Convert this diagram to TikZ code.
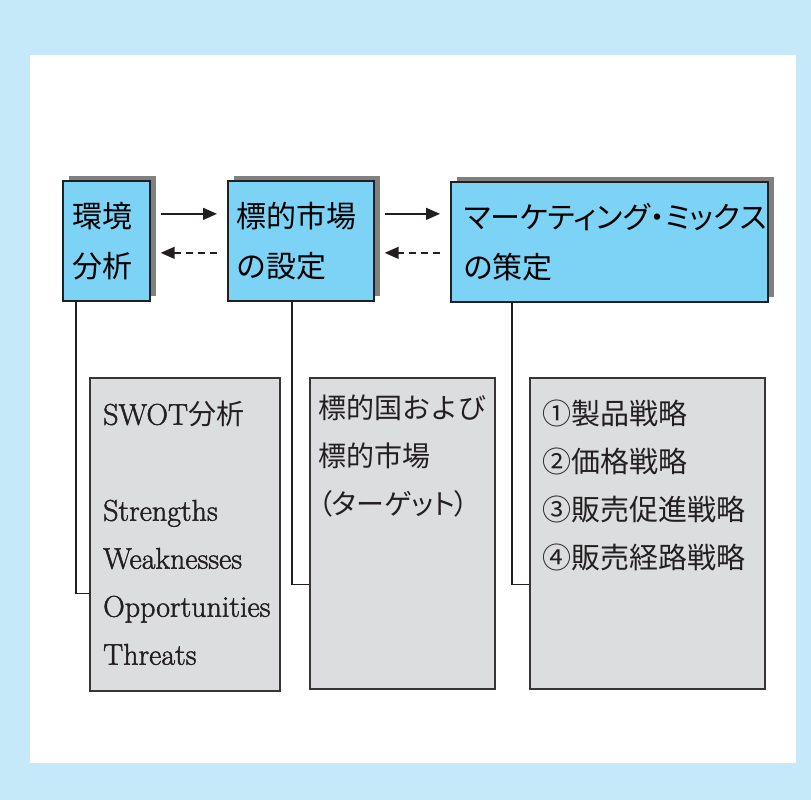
\documentclass[tikz,border=0pt]{standalone}
\usepackage{fontspec}
\newfontfamily\cjk{Noto Sans CJK JP}
\newfontfamily\cjkp[RawFeature=+palt]{Noto Sans CJK JP}
\newfontfamily\latinheavy[FakeBold=1.6]{Latin Modern Roman}
\usetikzlibrary{arrows.meta,shadows}
\definecolor{pageblue}{HTML}{C6E9F9}
\definecolor{boxblue}{HTML}{7DD3F5}
\definecolor{boxgray}{HTML}{DCDDDF}
\definecolor{shadowgray}{HTML}{808080}
\definecolor{inkline}{HTML}{231F20}
\tikzset{
  stagebox/.style={draw=inkline, line width=1.7pt, fill=boxblue, anchor=north west,
    align=left, inner ysep=0pt, minimum height=120pt,
    font=\cjk\fontsize{30}{50}\selectfont,
    drop shadow={shadow xshift=6pt, shadow yshift=5pt, fill=shadowgray, opacity=1}},
  notebox/.style={draw=inkline!90, line width=1.6pt, fill=boxgray, anchor=north west},
  notetext/.style={anchor=north west, align=left, inner sep=0pt, text=inkline},
  flow/.style={line width=1.5pt, draw=inkline, -{Triangle[length=14pt,width=12pt]},
    shorten <=10pt, shorten >=10pt},
  backflow/.style={flow, dash pattern=on 7pt off 5pt},
  link/.style={line width=1.6pt, draw=inkline}
}
\begin{document}
\begin{tikzpicture}[x=1pt,y=-1pt]
\fill[pageblue] (0,0) rectangle (811,800);
\fill[white] (30,55) rectangle (796,763);
% upper row
\node[stagebox, minimum width=87pt, inner xsep=10pt, text width=67pt] (env) at (62,180) {環境\\分析};
\node[stagebox, minimum width=146pt, inner xsep=9pt, text width=128pt] (market) at (227,180) {標的市場\\の設定};
\node[stagebox, minimum width=317pt, inner xsep=13pt, text width=291pt,
  font=\cjkp\fontsize{30}{50}\selectfont] (mix) at (450,181) {マーケティング・ミックス\\の策定};
\draw[flow] ([yshift=27pt]env.east) -- ([yshift=27pt]env.east -| market.west);
\draw[backflow] ([yshift=-12pt]env.east -| market.west) -- ([yshift=-12pt]env.east);
\draw[flow] ([yshift=27pt]market.east) -- ([yshift=27pt]market.east -| mix.west);
\draw[backflow] ([yshift=-12pt]market.east -| mix.west) -- ([yshift=-12pt]market.east);
% lower row
\node[notebox, minimum width=190pt, minimum height=313pt] (swot) at (89,377) {};
\node[notebox, minimum width=185pt, minimum height=311pt] (target) at (309,377) {};
\node[notebox, minimum width=235pt, minimum height=311pt] (plan) at (529,377) {};
\node[notetext, font=\latinheavy\fontsize{30}{48}\selectfont] (swottext) at ([xshift=14pt,yshift=-24pt]swot.north west)
  {SWOT{\cjk\fontsize{28}{48}\selectfont 分析}\\[48pt]Strengths\\Weaknesses\\Opportunities\\Threats};
\node[notetext, font=\cjk\fontsize{28}{48}\selectfont] (targettext) at ([xshift=9pt,yshift=-18pt]target.north west)
  {標的国および\\標的市場\\{\cjkp （ターゲット）}};
\node[notetext, font=\cjk\fontsize{29}{48}\selectfont] (plantext) at ([xshift=13pt,yshift=-23pt]plan.north west)
  {①製品戦略\\②価格戦略\\③販売促進戦略\\④販売経路戦略};
\draw[link] ([xshift=14pt]env.south west) |- ([yshift=98pt]swot.south west);
\draw[link] ([xshift=65pt]market.south west) |- ([yshift=105pt]target.south west);
\draw[link] ([xshift=62pt]mix.south west) |- ([yshift=105pt]plan.south west);
\end{tikzpicture}
\end{document}
